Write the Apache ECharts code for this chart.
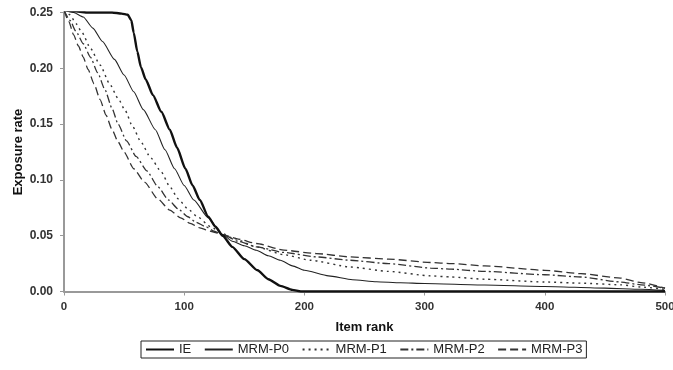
<!DOCTYPE html>
<html>
<head>
<meta charset="utf-8">
<script src="https://cdn.jsdelivr.net/npm/echarts@6/dist/echarts.min.js"></script>
<style>
  html, body { margin: 0; padding: 0; background: #fff; }
  #chart { width: 673px; height: 370px; }
</style>
</head>
<body>
<div id="chart"></div>
<script>
// Exposure rate by item rank
const seriesNames = ['IE', 'MRM-P0', 'MRM-P1', 'MRM-P2', 'MRM-P3'];

const ieRank = [0, 10, 20, 30, 40, 48, 53, 56, 58, 61, 64, 68, 74, 81, 88, 94, 101, 107, 113, 120, 126, 132, 140, 150, 161, 170, 180, 190, 197, 250, 300, 400, 500];
const ieRate = [0.252, 0.251, 0.250, 0.250, 0.250, 0.249, 0.248, 0.243, 0.232, 0.215, 0.201, 0.190, 0.176, 0.161, 0.145, 0.129, 0.110, 0.095, 0.082, 0.067, 0.058, 0.050, 0.040, 0.029, 0.019, 0.011, 0.005, 0.0015, 0, 0, 0, 0, 0];

const p0Rank = [0, 8, 16, 24, 32, 42, 50, 58, 66, 76, 84, 92, 100, 108, 120, 132, 140, 150, 160, 170, 180, 190, 200, 220, 240, 260, 280, 300, 350, 400, 450, 480, 500];
const p0Rate = [0.252, 0.250, 0.246, 0.236, 0.224, 0.208, 0.194, 0.179, 0.163, 0.145, 0.127, 0.110, 0.095, 0.082, 0.066, 0.051, 0.045, 0.041, 0.037, 0.032, 0.028, 0.023, 0.019, 0.014, 0.0105, 0.0088, 0.0078, 0.0072, 0.0058, 0.0045, 0.003, 0.002, 0.001];

const p1Rank = [0, 5, 10, 15, 22, 30, 38, 45, 51, 57, 64, 72, 81, 88, 95, 103, 111, 122, 132, 140, 160, 183, 205, 238, 270, 305, 322, 350, 400, 430, 463, 480, 500];
const p1Rate = [0.252, 0.248, 0.240, 0.232, 0.218, 0.203, 0.186, 0.173, 0.162, 0.148, 0.134, 0.120, 0.107, 0.094, 0.083, 0.074, 0.067, 0.058, 0.052, 0.048, 0.040, 0.033, 0.028, 0.022, 0.018, 0.014, 0.013, 0.011, 0.0085, 0.0075, 0.006, 0.004, 0.002];

const p2Rank = [0, 5, 10, 16, 22, 28, 34, 40, 45, 52, 60, 69, 78, 87, 95, 103, 110, 118, 125, 132, 145, 160, 183, 210, 238, 270, 305, 322, 350, 400, 430, 463, 480, 500];
const p2Rate = [0.252, 0.243, 0.233, 0.222, 0.210, 0.196, 0.181, 0.164, 0.150, 0.135, 0.121, 0.108, 0.094, 0.082, 0.074, 0.067, 0.062, 0.058, 0.054, 0.051, 0.045, 0.040, 0.035, 0.031, 0.028, 0.025, 0.021, 0.020, 0.018, 0.015, 0.013, 0.0085, 0.006, 0.003];

const p3Rank = [0, 4, 8, 12, 16, 20, 25, 30, 35, 40, 45, 50, 58, 67, 78, 88, 97, 105, 113, 122, 132, 145, 160, 183, 210, 238, 270, 305, 322, 350, 400, 430, 463, 480, 500];
const p3Rate = [0.252, 0.242, 0.230, 0.220, 0.210, 0.199, 0.186, 0.172, 0.158, 0.145, 0.134, 0.125, 0.110, 0.098, 0.083, 0.073, 0.066, 0.061, 0.057, 0.054, 0.051, 0.047, 0.043, 0.037, 0.034, 0.031, 0.029, 0.026, 0.025, 0.023, 0.019, 0.016, 0.012, 0.008, 0.003];

const xTicks = [0, 100, 200, 300, 400, 500];
const yTicks = [0, 0.05, 0.10, 0.15, 0.20, 0.25];

const zip = (xs, ys) => xs.map((x, i) => [x, ys[i]]);

const font = 'Liberation Sans, Arial, sans-serif';

// line look per series: colour, width, dash pattern
const styles = [
  { color: '#111', width: 2.4, type: 'solid' },
  { color: '#222', width: 1.1, type: 'solid' },
  { color: '#333', width: 1.4, type: [2, 4] },
  { color: '#333', width: 1.3, type: [8, 3, 2, 3] },
  { color: '#333', width: 1.3, type: [8, 4] },
];

const allData = [
  zip(ieRank, ieRate),
  zip(p0Rank, p0Rate),
  zip(p1Rank, p1Rate),
  zip(p2Rank, p2Rate),
  zip(p3Rank, p3Rate),
];

const chart = echarts.init(document.getElementById('chart'), null, { renderer: 'canvas' });

chart.setOption({
  animation: false,
  backgroundColor: '#fff',
  // the last x label runs off the right edge in the original, so no auto shrinking
  grid: { left: 64, right: 8, top: 12.5, bottom: 78.5, containLabel: false, outerBoundsMode: 'none' },
  xAxis: {
    type: 'value',
    min: xTicks[0],
    max: xTicks[xTicks.length - 1],
    interval: 100,
    name: 'Item rank',
    nameLocation: 'middle',
    nameGap: 29,
    nameTextStyle: { fontFamily: font, fontSize: 13, fontWeight: 'bold', color: '#111' },
    axisLine: { lineStyle: { color: '#999', width: 2 } },
    axisTick: { show: true, length: 4, lineStyle: { color: '#999', width: 1 } },
    axisLabel: { fontFamily: font, fontSize: 11.5, fontWeight: 'bold', color: '#333', margin: 9 },
    splitLine: { show: false },
  },
  yAxis: {
    type: 'value',
    min: yTicks[0],
    max: yTicks[yTicks.length - 1],
    interval: 0.05,
    name: 'Exposure rate',
    nameLocation: 'middle',
    nameGap: 39,
    nameMoveOverlap: false,
    nameTextStyle: { fontFamily: font, fontSize: 13, fontWeight: 'bold', color: '#111' },
    axisLine: { show: true, lineStyle: { color: '#999', width: 2 } },
    axisTick: { show: true, length: 4, lineStyle: { color: '#999', width: 1 } },
    axisLabel: {
      fontFamily: font, fontSize: 12, fontWeight: 'bold', color: '#333', margin: 11,
      formatter: (v) => v.toFixed(2),
    },
    splitLine: { show: false },
  },
  legend: {
    data: seriesNames,
    left: 141,
    top: 341,
    orient: 'horizontal',
    borderColor: '#222',
    borderWidth: 1,
    borderRadius: 0,
    padding: [2, 4, 2, 4],
    itemGap: 12.5,
    itemWidth: 28,
    itemHeight: 10,
    itemStyle: { opacity: 0 },
    textStyle: { fontFamily: font, fontSize: 13, color: '#222' },
  },
  series: seriesNames.map((name, i) => ({
    name,
    type: 'line',
    data: allData[i],
    symbol: 'none',
    showSymbol: false,
    smooth: 0.2,
    smoothMonotone: 'x',
    z: 10 - i,
    lineStyle: { color: styles[i].color, width: styles[i].width, type: styles[i].type },
    itemStyle: { color: styles[i].color },
  })),
});
</script>
</body>
</html>
